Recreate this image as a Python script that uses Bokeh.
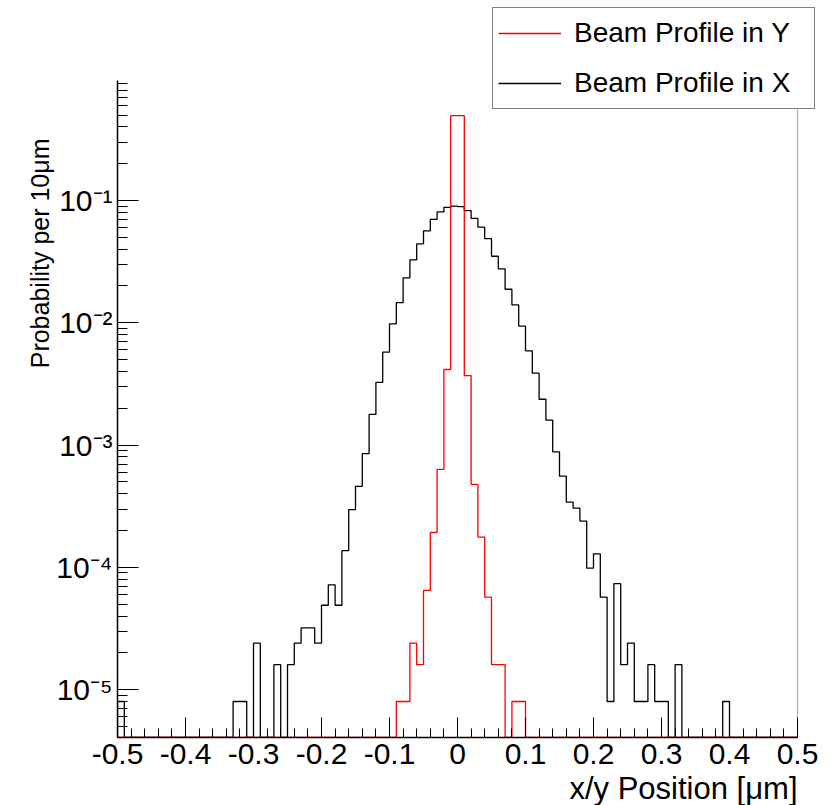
import math
from bokeh.plotting import figure
from bokeh.models import (FixedTicker, Legend, LegendItem, Range1d, Title, BoxAnnotation)
from bokeh.embed import file_html
from bokeh.resources import INLINE

# ---------------- data ----------------
bin_start = -0.5
bin_width = 0.01
n_bins = 100

# Beam profile in X (black), probability per 0.01 bin, bins from -0.50 to 0.50
profile_x = [
    8e-6, 0, 0, 0, 0, 0, 0, 0, 0, 0,                                          # -0.50 .. -0.41
    0, 0, 0, 0, 0, 0, 0, 8e-6, 8e-6, 0,                                       # -0.40 .. -0.31
    2.4e-5, 0, 0, 1.6e-5, 0, 1.6e-5, 2.4e-5, 3.2e-5, 3.2e-5, 2.4e-5,          # -0.30 .. -0.21
    4.9e-5, 7.2e-5, 4.9e-5, 1.37e-4, 2.97e-4, 4.6e-4, 8.5e-4, 1.78e-3, 3.25e-3, 5.75e-3,  # -0.20 .. -0.11
    9.8e-3, 1.46e-2, 2.33e-2, 3.27e-2, 4.42e-2, 5.65e-2, 7.0e-2, 8.07e-2, 8.8e-2, 9.0e-2,  # -0.10 .. -0.01
    8.9e-2, 8.28e-2, 7.13e-2, 6.05e-2, 4.87e-2, 3.5e-2, 2.76e-2, 1.88e-2, 1.40e-2, 9.4e-3,  # 0.00 .. 0.09
    5.9e-3, 3.87e-3, 2.37e-3, 1.6e-3, 8.8e-4, 5.57e-4, 3.41e-4, 3.05e-4, 2.39e-4, 9.85e-5,  # 0.10 .. 0.19
    1.29e-4, 5.7e-5, 8e-6, 7.35e-5, 1.6e-5, 2.4e-5, 8e-6, 8e-6, 1.6e-5, 8e-6,  # 0.20 .. 0.29
    8e-6, 0, 1.6e-5, 0, 0, 0, 0, 0, 0, 8e-6,                                  # 0.30 .. 0.39
    0, 0, 0, 0, 0, 0, 0, 0, 0, 0,                                             # 0.40 .. 0.49
]

# Beam profile in Y (red)
profile_y = [
    0, 0, 0, 0, 0, 0, 0, 0, 0, 0,
    0, 0, 0, 0, 0, 0, 0, 0, 0, 0,
    0, 0, 0, 0, 0, 0, 0, 0, 0, 0,
    0, 0, 0, 0, 0, 0, 0, 0, 0, 0,
    0, 8e-6, 8e-6, 2.4e-5, 1.6e-5, 6.47e-5, 1.93e-4, 6.33e-4, 4.15e-3, 0.495,  # -0.10 .. -0.01
    0.495, 3.7e-3, 4.77e-4, 1.77e-4, 5.7e-5, 1.6e-5, 1.6e-5, 0, 8e-6, 8e-6,    # 0.00 .. 0.09
    0, 0, 0, 0, 0, 0, 0, 0, 0, 0,
    0, 0, 0, 0, 0, 0, 0, 0, 0, 0,
    0, 0, 0, 0, 0, 0, 0, 0, 0, 0,
    0, 0, 0, 0, 0, 0, 0, 0, 0, 0,
]

x_ticks = [-0.5, -0.4, -0.3, -0.2, -0.1, 0, 0.1, 0.2, 0.3, 0.4, 0.5]
x_tick_labels = ["-0.5", "-0.4", "-0.3", "-0.2", "-0.1", "0", "0.1", "0.2", "0.3", "0.4", "0.5"]
y_ticks = [1e-5, 1e-4, 1e-3, 1e-2, 1e-1]
y_tick_labels = ["10\u207b\u2075", "10\u207b\u2074", "10\u207b\u00b3", "10\u207b\u00b2", "10\u207b\u00b9"]

series_names = ["Beam Profile in Y", "Beam Profile in X"]
x_title = "x/y Position [\u03bcm]"
y_title = "Probability per 10\u03bcm"

# axis extents (the drawn frame)
x_lo, x_hi = -0.5, 0.5
y_min, y_axis_top = 4.06e-6, 0.958

# ---------------- layout geometry ----------------
W, H = 831, 805
frame_left, frame_right_axis, frame_bottom, frame_top_axis = 117, 797, 737, 80
px_per_x = (frame_right_axis - frame_left) / (x_hi - x_lo)
px_per_decade = (frame_bottom - frame_top_axis) / (math.log10(y_axis_top) - math.log10(y_min))
# the plotting frame extends to the canvas top and right edge so the legend is not clipped
x_range_hi = x_hi + (W - frame_right_axis) / px_per_x
y_range_hi = y_min * 10 ** (frame_bottom / px_per_decade)

p = figure(width=W, height=H, y_axis_type="log",
           x_range=Range1d(x_lo, x_range_hi), y_range=Range1d(y_min, y_range_hi),
           output_backend="svg", toolbar_location=None,
           min_border_left=frame_left, min_border_right=0,
           min_border_top=0, min_border_bottom=H - frame_bottom)
p.grid.visible = False
p.outline_line_color = None
p.background_fill_color = "white"
p.border_fill_color = "white"

def step_path(values):
    xs, ys = [], []
    edges = [bin_start + bin_width * k for k in range(n_bins + 1)]
    xs.append(edges[0]); ys.append(y_min)
    for k, v in enumerate(values):
        vv = v if v > 0 else y_min
        xs.extend([edges[k], edges[k + 1]])
        ys.extend([vv, vv])
    xs.append(edges[-1]); ys.append(y_min)
    return xs, ys

bx, by = step_path(profile_x)
r_x = p.line(bx, by, line_color="black", line_width=1.3)
ryx, ryy = step_path(profile_y)
r_y = p.line(ryx, ryy, line_color="red", line_width=1.3)

FONT = "Liberation Sans"

# x axis
xa = p.xaxis[0]
x_minor = [round(-0.5 + 0.02 * k, 2) for k in range(51)]
xa.ticker = FixedTicker(ticks=x_ticks, minor_ticks=x_minor)
xa.bounds = (x_lo, x_hi)
xa.major_label_overrides = {t: l for t, l in zip(x_ticks, x_tick_labels)}
xa.major_tick_in = 20
xa.major_tick_out = 0
xa.minor_tick_in = 9
xa.minor_tick_out = 0
xa.axis_line_width = 1.5
xa.axis_line_color = "black"
xa.major_tick_line_color = "black"
xa.minor_tick_line_color = "black"
xa.major_label_text_font = FONT
xa.major_label_text_font_size = "30px"
xa.major_label_text_color = "black"
xa.major_label_standoff = 6

# y axis
ya = p.yaxis[0]
y_minor = [m * 10.0 ** e for e in range(-6, 0) for m in range(2, 10)]
ya.ticker = FixedTicker(ticks=y_ticks, minor_ticks=y_minor)
ya.bounds = (y_min, y_axis_top)
ya.major_label_overrides = {t: l for t, l in zip(y_ticks, y_tick_labels)}
ya.major_tick_in = 21
ya.major_tick_out = 0
ya.minor_tick_in = 10
ya.minor_tick_out = 0
ya.axis_line_width = 1.5
ya.axis_line_color = "black"
ya.major_tick_line_color = "black"
ya.minor_tick_line_color = "black"
ya.major_label_text_font = FONT
ya.major_label_text_font_size = "30px"
ya.major_label_text_color = "black"
ya.major_label_standoff = 5

# right frame line (edge of the axis frame)
frame_edge = BoxAnnotation(left=x_hi, right=x_hi, bottom=y_min, top=y_axis_top,
                           fill_color=None, fill_alpha=0, line_color="black", line_width=1.2)
p.add_layout(frame_edge)

# axis titles (a thin spacer panel pushes the x title down)
p.add_layout(Title(text=" ", text_font_size="1px", standoff=2), "below")
p.add_layout(Title(text=x_title, align="right", offset=W - frame_right_axis,
                   vertical_align="bottom", standoff=-6,
                   text_font=FONT, text_font_size="31px", text_font_style="normal",
                   text_color="black"), "below")
p.add_layout(Title(text=y_title, align="right", offset=138, standoff=0,
                   text_font=FONT, text_font_size="25px", text_font_style="normal",
                   text_color="black"), "left")

legend = Legend(items=[LegendItem(label=series_names[0], renderers=[r_y]),
                       LegendItem(label=series_names[1], renderers=[r_x])],
                location=(375, 628))
legend.border_line_color = "black"
legend.border_line_width = 1
legend.background_fill_color = "white"
legend.background_fill_alpha = 1.0
legend.padding = 5
legend.spacing = 10
legend.margin = 0
legend.label_height = 40
legend.glyph_height = 40
legend.glyph_width = 63
legend.label_standoff = 13
legend.label_width = 235
legend.label_text_font = FONT
legend.label_text_font_size = "28px"
legend.label_text_color = "black"
p.add_layout(legend)

open("out.html", "w").write(file_html(p, INLINE))
